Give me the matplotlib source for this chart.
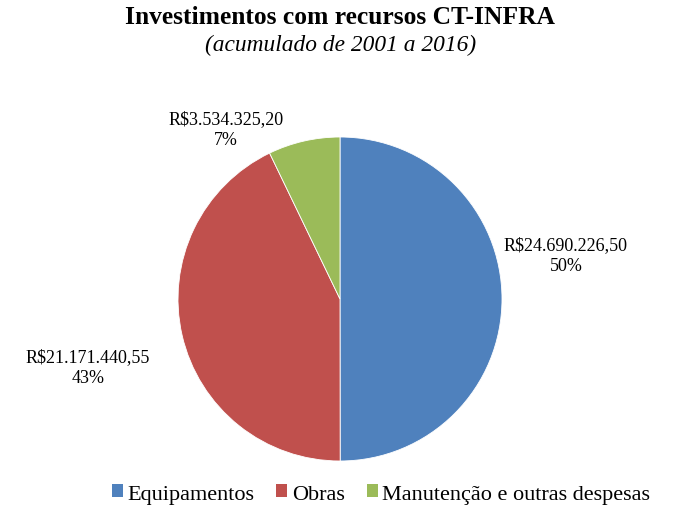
import matplotlib
matplotlib.use("Agg")
import matplotlib.pyplot as plt
from matplotlib.patches import Patch

categories = ["Equipamentos", "Obras", "Manutenção e outras despesas"]
values = [24690226.50, 21171440.55, 3534325.20]
colors = ["#4F81BD", "#C0504D", "#9BBB59"]
title = "Investimentos com recursos CT-INFRA"
subtitle = "(acumulado de 2001 a 2016)"

def brl(v):
    s = f"{v:,.2f}"
    s = s.replace(",", "X").replace(".", ",").replace("X", ".")
    return "R\\$" + s

plt.rcParams['font.family'] = ['Liberation Serif', 'DejaVu Serif']

W, H = 673, 510
fig = plt.figure(figsize=(W / 100, H / 100), dpi=100)
ax = fig.add_axes([0, 0, 1, 1])

cx, cy, r = 340, H - 300, 162
wedges, _ = ax.pie(values, colors=colors, startangle=90, counterclock=False,
                   center=(cx, cy), radius=r, frame=True,
                   wedgeprops=dict(linewidth=0.6, edgecolor='white'))
ax.set_xlim(0, W)
ax.set_ylim(0, H)
ax.set_aspect('equal')
ax.axis('off')

total = sum(values)
label_pos = [(566, H - 256), (88, H - 368), (226, H - 130)]
for v, (x, y) in zip(values, label_pos):
    ax.text(x, y, f"{brl(v)}\n{round(v / total * 100):.0f}%", ha='center', va='center',
            fontsize=13, linespacing=1.3, color='#000000')

fig.text(340 / W, 1 - 18 / H, title, ha='center', va='center', fontsize=18.4, fontweight='bold')
fig.text(341 / W, 1 - 45 / H, subtitle, ha='center', va='center', fontsize=16.8, fontstyle='italic')

handles = [Patch(facecolor=c, edgecolor='none') for c in colors]
fig.legend(handles, categories, loc='center', bbox_to_anchor=(381 / W, 1 - 495 / H),
           ncol=3, frameon=False, fontsize=16, handlelength=0.5, handleheight=0.5,
           handletextpad=0.2, columnspacing=1.0)

fig.savefig("out.png", dpi=100)
